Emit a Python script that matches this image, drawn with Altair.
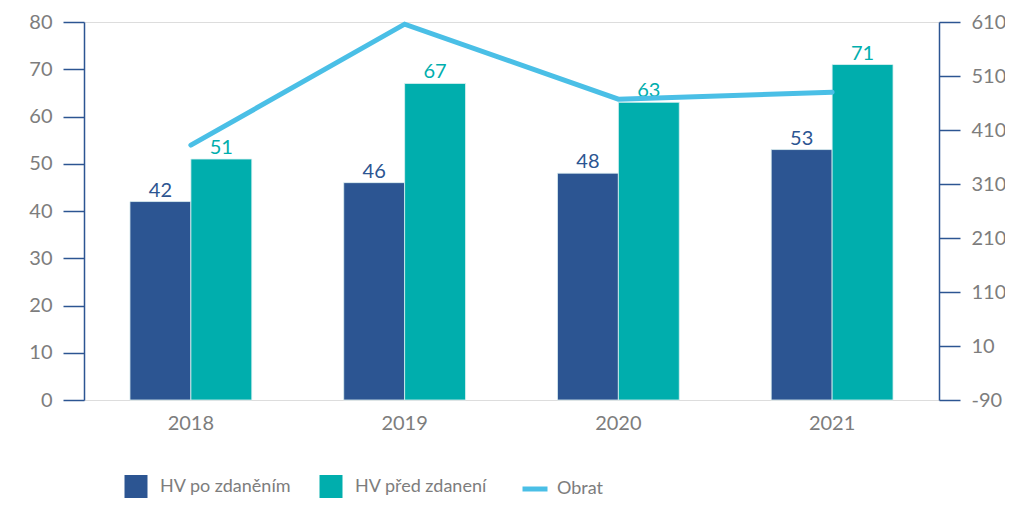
import altair as alt
import pandas as pd

years = ["2018", "2019", "2020", "2021"]
hv_po = [42, 46, 48, 53]
hv_pred = [51, 67, 63, 71]
obrat = [382, 606, 467, 480]
series_names = ["HV po zdaněním", "HV před zdanení"]
line_name = "Obrat"
left_ticks = list(range(0, 81, 10))
right_ticks = list(range(-90, 611, 100))

bars_df = pd.DataFrame({
    "year": years * 2,
    "series": [series_names[0]] * len(years) + [series_names[1]] * len(years),
    "value": hv_po + hv_pred,
})
line_df = pd.DataFrame({"year": years, "series": [line_name] * len(years), "value": obrat})

FONT = "Lato"
FW = 400
FS = 20
LFS = 18
AXIS_COL = "#2C5592"
LAB_COL = "#7d7d7d"
BAR_COLORS = ["#2C5592", "#00AEAD"]
LINE_COL = "#4ABFE6"

x_enc = alt.X(
    "year:N",
    scale=alt.Scale(paddingInner=0.43, paddingOuter=0.215),
    axis=alt.Axis(title=None, domain=False, ticks=False, labelAngle=0,
                  labelFontSize=FS, labelColor=LAB_COL, labelPadding=13, labelFont=FONT,
                  labelFontWeight=FW),
)
xoff = alt.XOffset("series:N", sort=series_names, scale=alt.Scale(paddingInner=0, paddingOuter=0))
fill_scale = alt.Scale(domain=series_names, range=BAR_COLORS)

y_left = alt.Y(
    "value:Q",
    scale=alt.Scale(domain=[0, 80], nice=False),
    axis=alt.Axis(title=None, values=left_ticks, grid=False, domainColor=AXIS_COL, domainWidth=1.5,
                  tickColor=AXIS_COL, tickWidth=1.5, tickSize=21, labelFontSize=FS,
                  labelColor=LAB_COL, labelPadding=11, labelFont=FONT, labelFontWeight=FW),
)

bars = alt.Chart(bars_df).mark_bar(stroke="#dff1f3", strokeWidth=0.8).encode(
    x=x_enc,
    xOffset=xoff,
    y=y_left,
    fill=alt.Fill(
        "series:N", scale=fill_scale, sort=series_names,
        legend=alt.Legend(
            orient="none", legendX=40, legendY=453, direction="horizontal", title=None,
            symbolType="M-0.958,-1H0.958V1H-0.958Z", symbolSize=576, symbolStrokeWidth=0,
            symbolOpacity=1, labelFontSize=LFS, labelColor=LAB_COL, labelFont=FONT,
            labelFontWeight=FW, labelOffset=12, columnPadding=27, labelLimit=300,
        ),
    ),
)

text = alt.Chart(bars_df).mark_text(dy=-1, baseline="bottom", fontSize=FS, font=FONT,
                                    fontWeight=FW).encode(
    x=x_enc,
    xOffset=xoff,
    y=y_left,
    text=alt.Text("value:Q"),
    fill=alt.Fill("series:N", scale=fill_scale, sort=series_names, legend=None),
)

line = alt.Chart(line_df).mark_line(strokeWidth=5, strokeCap="round", strokeJoin="miter").encode(
    x=x_enc,
    y=alt.Y(
        "value:Q",
        scale=alt.Scale(domain=[-90, 610], nice=False, zero=False),
        axis=alt.Axis(title=None, orient="right", values=right_ticks, grid=False, domainColor=AXIS_COL,
                      domainWidth=1.5, tickColor=AXIS_COL, tickWidth=1.5, tickSize=21, labelFontSize=FS,
                      labelColor=LAB_COL, labelPadding=11, labelFont=FONT, labelFontWeight=FW,
                      labelExpr="'' + datum.value"),
    ),
    stroke=alt.Stroke(
        "series:N", scale=alt.Scale(domain=[line_name], range=[LINE_COL]),
        legend=alt.Legend(
            orient="none", legendX=436, legendY=452, title=None, symbolType="stroke",
            symbolSize=625, symbolStrokeWidth=5, labelFontSize=LFS, labelColor=LAB_COL,
            labelFont=FONT, labelFontWeight=FW, labelOffset=7,
        ),
    ),
)

chart = alt.layer(alt.layer(bars, text), line).resolve_scale(y="independent").properties(
    width=855,
    height=378,
    autosize=alt.AutoSizeParams(type="none"),
    padding={"left": 76, "top": 14, "right": 66, "bottom": 98},
).configure_view(stroke=None).configure(background="white")

chart.save("out.html", embed_options={"renderer": "svg", "actions": False})
